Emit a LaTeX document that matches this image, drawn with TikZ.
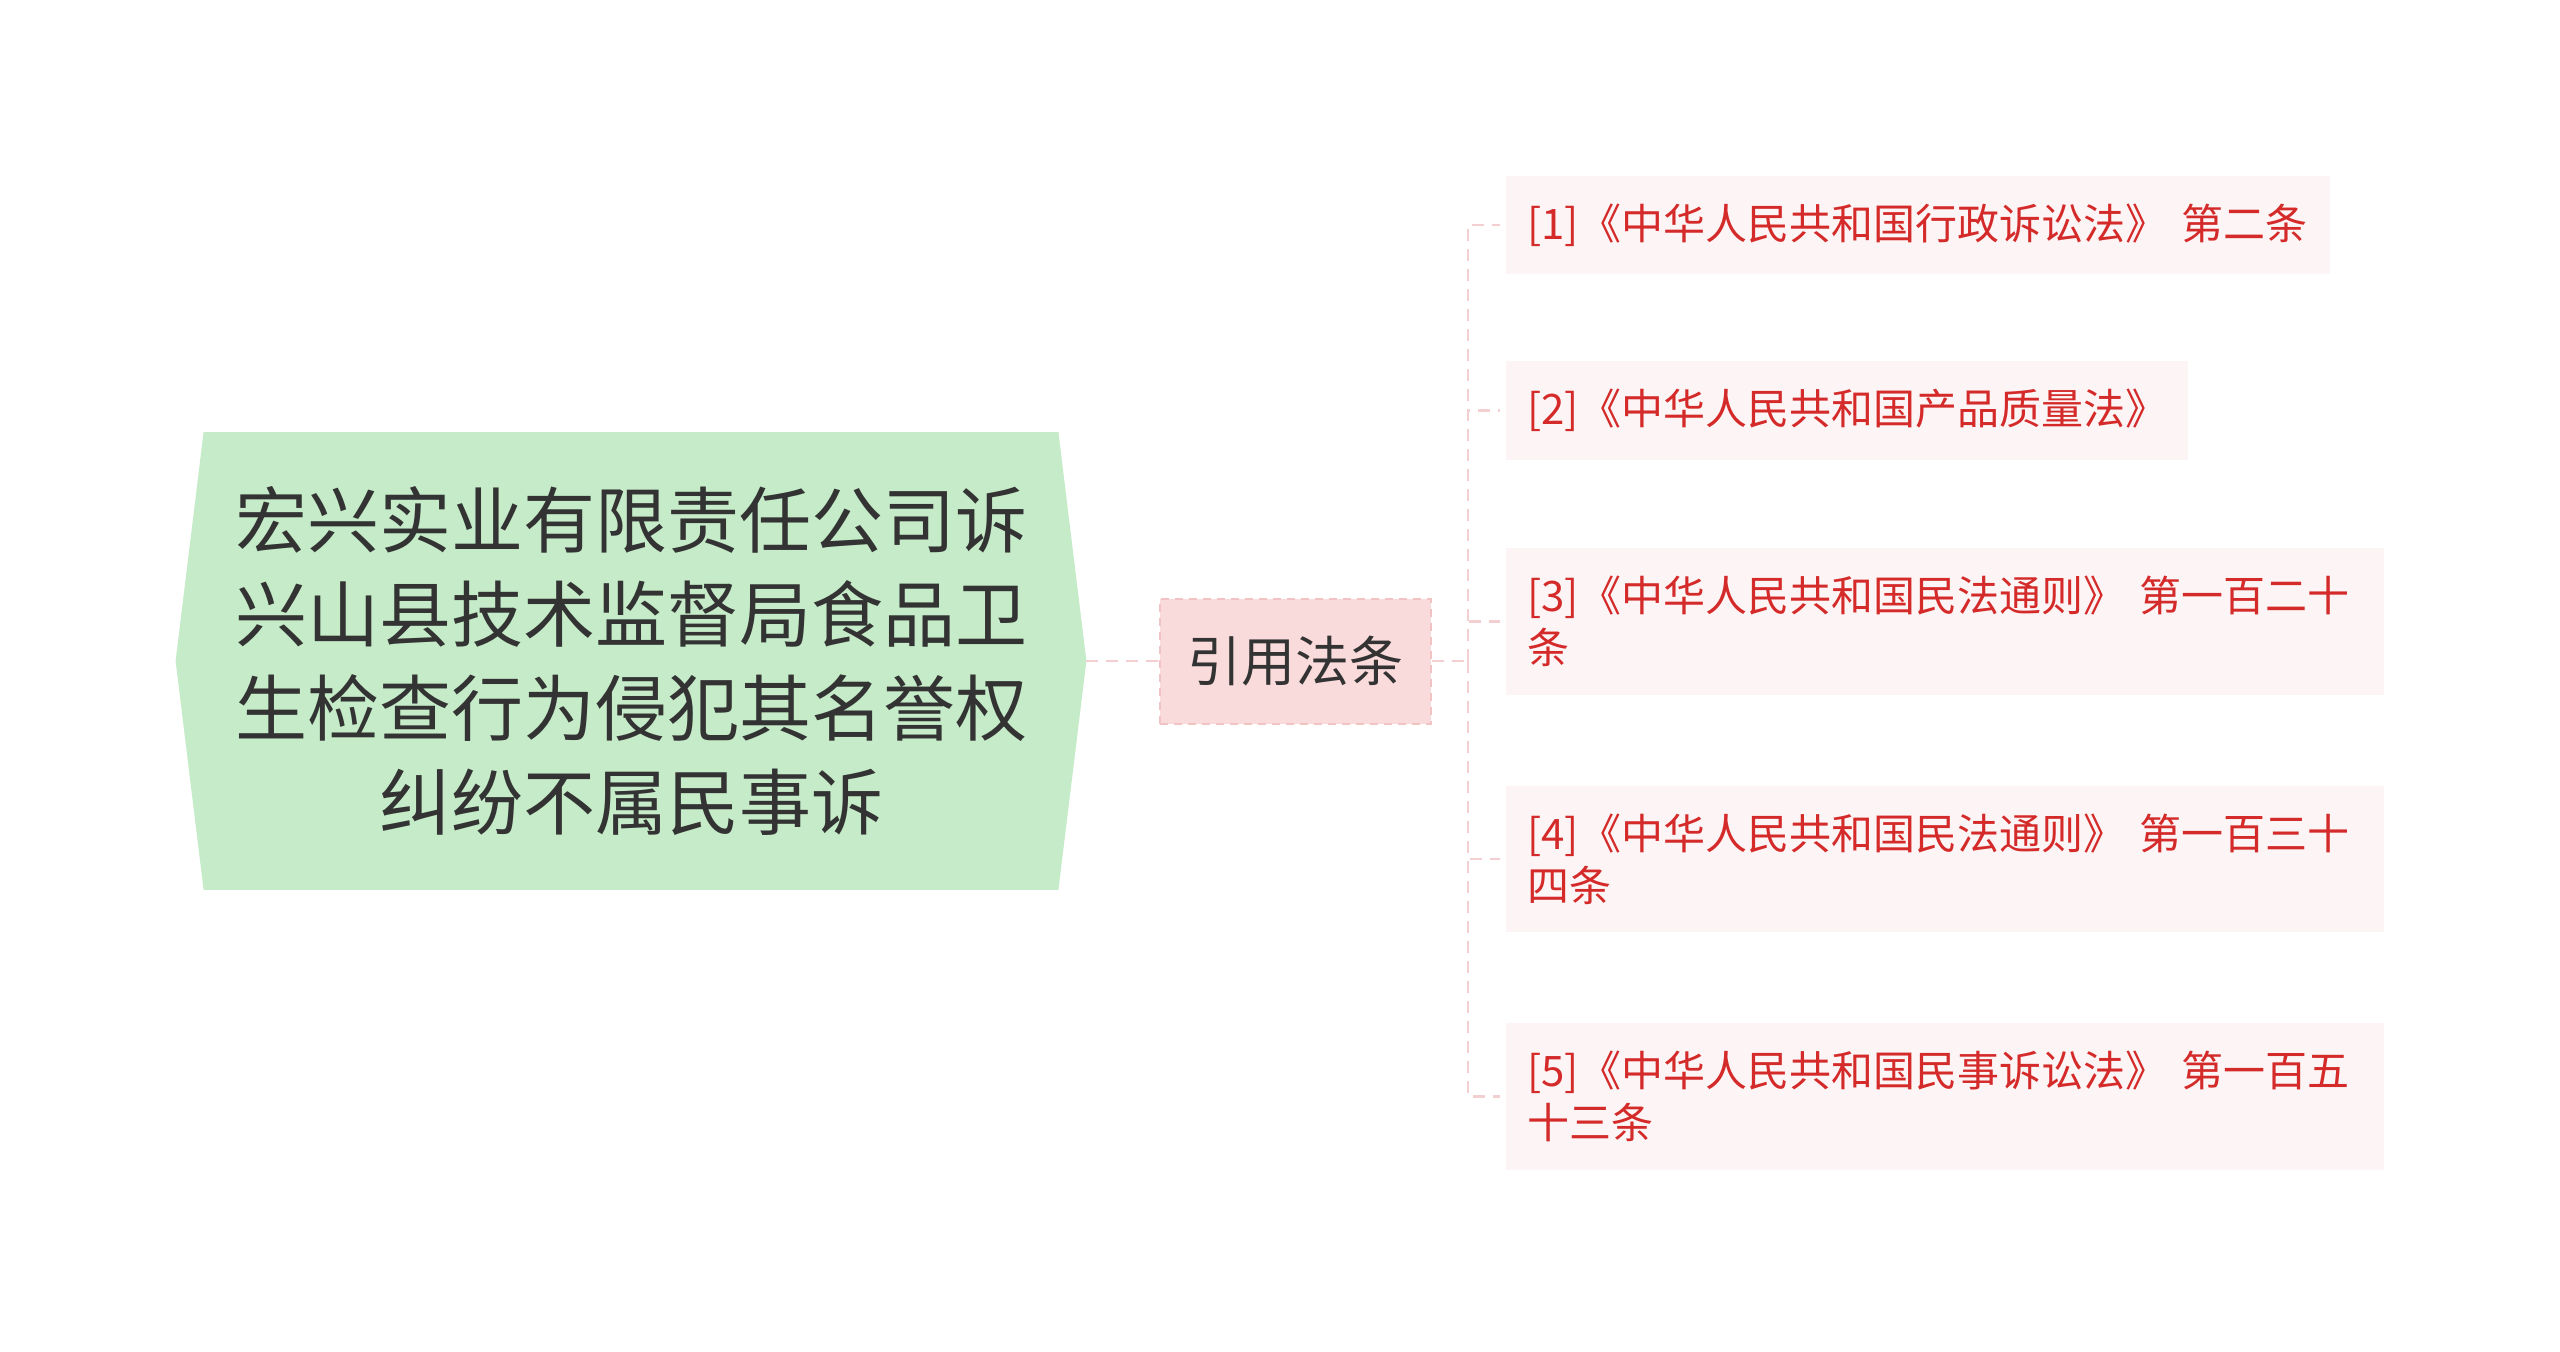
\documentclass[tikz,border=0pt]{standalone}
\usepackage{fontspec}
\newfontfamily\cjk{Noto Sans CJK SC}
\usetikzlibrary{positioning, backgrounds}
\definecolor{rootgreen}{HTML}{C5EBC8}
\definecolor{subpink}{HTML}{FADBDB}
\definecolor{subedge}{HTML}{F2C3C5}
\definecolor{leafpink}{HTML}{FDF5F5}
\definecolor{leafred}{HTML}{D42A2A}
\definecolor{linkpink}{HTML}{F4CFD1}
\definecolor{textgray}{HTML}{333333}

\begin{document}
\begin{tikzpicture}[x=0.5pt,y=-0.5pt,
  rootbox/.style={minimum width=427pt,minimum height=228.5pt,inner sep=0pt,
    align=center,text=textgray,font=\cjk\fontsize{36}{47}\selectfont},
  citebox/.style={fill=subpink,draw=subedge,line width=1pt,dash pattern=on 4pt off 3pt,
    minimum width=135.5pt,minimum height=62.5pt,inner sep=0pt,
    text=textgray,font=\cjk\fontsize{27}{32}\selectfont},
  lawbox/.style={fill=leafpink,text=leafred,anchor=west,align=left,
    inner xsep=10.5pt,inner ysep=14pt,text width=#1,
    font=\cjk\fontsize{21}{26}\selectfont},
  link/.style={draw=linkpink,line width=1.2pt,dash pattern=on 6pt off 4pt}]
\useasboundingbox (0,0) rectangle (2560,1351);
% centre topic
\node[rootbox] (root) at (631,661)
  {宏兴实业有限责任公司诉\\兴山县技术监督局食品卫\\生检查行为侵犯其名誉权\\纠纷不属民事诉};
\begin{scope}[on background layer]
  \fill[rootgreen] (root.north west) -- ([xshift=-14pt]root.west) -- (root.south west)
    -- (root.south east) -- ([xshift=14pt]root.east) -- (root.north east) -- cycle;
\end{scope}
\coordinate (tip) at ([xshift=14pt]root.east);
% sub topic
\node[citebox, right=50.5pt of root] (cite) {引用法条};
\draw[link] (tip) -- (cite.west);
% laws
\node[lawbox=391pt] (law1) at (1506,225) {[1]《中华人民共和国行政诉讼法》 第二条};
\node[lawbox=320pt] (law2) at (1506,410.5) {[2]《中华人民共和国产品质量法》};
\node[lawbox=418pt] (law3) at (1506,621.5) {[3]《中华人民共和国民法通则》 第一百二十\\条};
\node[lawbox=418pt] (law4) at (1506,859) {[4]《中华人民共和国民法通则》 第一百三十\\四条};
\node[lawbox=418pt] (law5) at (1506,1096.5) {[5]《中华人民共和国民事诉讼法》 第一百五\\十三条};
\coordinate (trunk) at (1468,661);
\draw[link] (cite.east) -- (trunk);
\foreach \i in {1,...,5}
  \draw[link] (trunk) |- ([xshift=-3pt]law\i.west);
\end{tikzpicture}
\end{document}
